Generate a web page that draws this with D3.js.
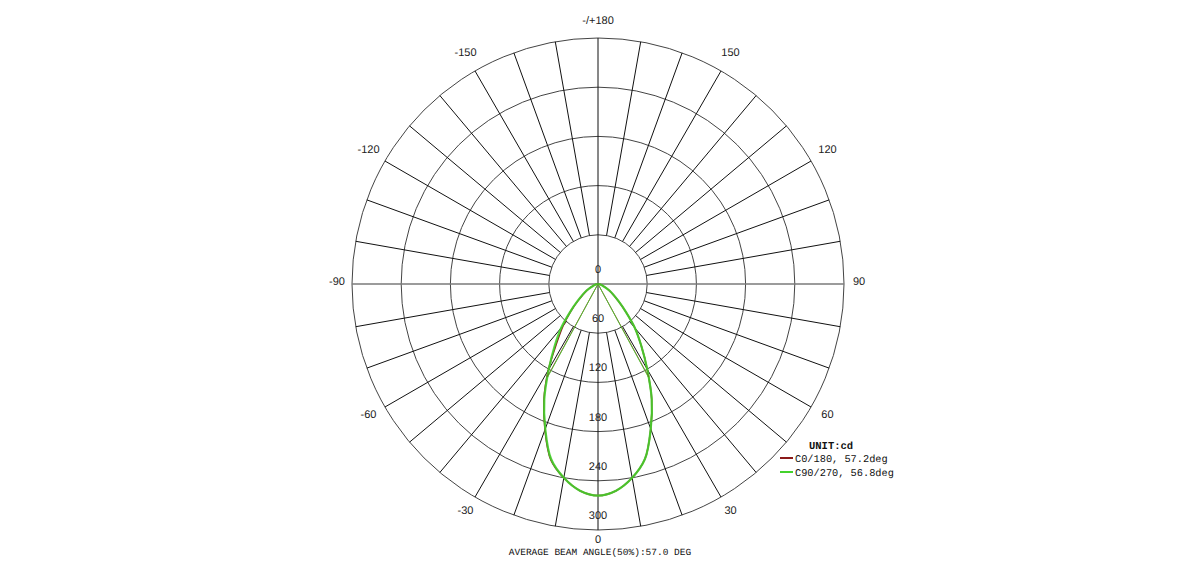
<!DOCTYPE html>
<html>
<head>
<meta charset="utf-8">
<script src="https://cdn.jsdelivr.net/npm/d3@7"></script>
<style>
html,body{margin:0;padding:0;background:#fff;}
svg{display:block;}
text{text-rendering:geometricPrecision;}
</style>
</head>
<body>
<svg id="chart" width="1200" height="567"></svg>
<script>
// ---- data ----
const gammaAngles = [-90,-80,-70,-60,-50,-45,-40,-35,-30,-25,-20,-15,-10,-5,0,5,10,15,20,25,30,35,40,45,50,60,70,80,90];
const c0_180   = [0,2,6,16,32,47,66,88,121,156,189,222,240,253,258,253,240,221,188,155,120,92,70,48,33,16,6,2,0];
const c90_270  = [0,2,6,16,33,48,70,92,120,155,188,221,240,253,258,253,240,221,188,155,120,92,70,48,33,16,6,2,0];
const seriesNames = ["C0/180, 57.2deg", "C90/270, 56.8deg"];
const seriesColors = ["#8b1a1a", "#44d22c"];
const beamHalfAngles = [28.6, 28.4];
const maxCd = 258;
const ringTicks = [0, 60, 120, 180, 240, 300];
const angleTicks = [0, 30, 60, 90, 120, 150, 180, -150, -120, -90, -60, -30];
const angleTickLabels = ["0","30","60","90","120","150","-/+180","-150","-120","-90","-60","-30"];
const unitLabel = "UNIT:cd";
const footerText = "AVERAGE BEAM ANGLE(50%):57.0 DEG";

// ---- layout ----
const cx = 598, cy = 284, R = 246;
const svg = d3.select("#chart");
const r = d3.scaleLinear().domain([0, 300]).range([0, R]);
const toRad = d => d * Math.PI / 180;
const px = (a, v) => cx + r(v) * Math.sin(toRad(a));
const py = (a, v) => cy + r(v) * Math.cos(toRad(a));

const g = svg.append("g");

// rings
g.selectAll("circle.ring").data(ringTicks.filter(d => d > 0)).join("circle")
  .attr("class","ring").attr("cx", cx).attr("cy", cy).attr("r", d => r(d))
  .attr("fill","none").attr("stroke","#444").attr("stroke-width",1);

// spokes every 10 deg from first ring to outer ring
const spokes = d3.range(-170, 181, 10).filter(a => a % 90 !== 0);
g.selectAll("line.spoke").data(spokes).join("line")
  .attr("x1", a => px(a, 60)).attr("y1", a => py(a, 60))
  .attr("x2", a => px(a, 300)).attr("y2", a => py(a, 300))
  .attr("stroke","#111").attr("stroke-width",1);

// axes through centre
g.append("line").attr("x1", px(-90,300)).attr("y1", py(-90,300)).attr("x2", px(90,300)).attr("y2", py(90,300))
  .attr("stroke","#7a7a7a").attr("stroke-width",1.5);
g.append("line").attr("x1", px(180,300)).attr("y1", py(180,300)).attr("x2", px(0,300)).attr("y2", py(0,300))
  .attr("stroke","#111").attr("stroke-width",1);

const sans = "'Liberation Sans', Arial, sans-serif";
// ring labels
g.selectAll("text.ringlab").data(ringTicks).join("text")
  .attr("x", cx).attr("y", d => cy + r(d) - 14)
  .attr("text-anchor","middle").attr("dominant-baseline","central")
  .attr("font-family", sans).attr("font-size", 11)
  .attr("fill","#222").text(d => d);

// angle labels
const labR = a => (a % 90 === 0) ? (a === 0 ? 258 : 261) : 265;
g.selectAll("text.anglab").data(angleTicks).join("text")
  .attr("x", a => cx + labR(a) * Math.sin(toRad(a)))
  .attr("y", a => cy + labR(a) * Math.cos(toRad(a)) - 2)
  .attr("text-anchor","middle").attr("dominant-baseline","central")
  .attr("font-family", sans).attr("font-size", 11)
  .attr("fill","#222").text((a, i) => angleTickLabels[i]);

// curves
const line = d3.lineRadial().angle(d => toRad(180 - d[0])).radius(d => r(d[1])).curve(d3.curveCatmullRom);
const allSeries = [c0_180, c90_270];
const cg = g.append("g").attr("transform", `translate(${cx},${cy})`);
allSeries.forEach((vals, i) => {
  const pts = gammaAngles.map((a, k) => [a, vals[k]]);
  cg.append("path").attr("d", line(pts)).attr("fill","none")
    .attr("stroke", seriesColors[i]).attr("stroke-width", i === 1 ? 2.2 : 1.6)
    .attr("stroke-opacity", i === 1 ? 0.9 : 1);
  // beam angle lines (50% intensity)
  [-1, 1].forEach(s => {
    const a = s * beamHalfAngles[i];
    g.append("line").attr("x1", cx).attr("y1", cy)
      .attr("x2", px(a, maxCd / 2)).attr("y2", py(a, maxCd / 2))
      .attr("stroke", seriesColors[i]).attr("stroke-width", 1).attr("stroke-opacity", 0.85);
  });
});

// legend
const mono = "'Liberation Mono', 'Courier New', monospace";
g.append("text").attr("x", 809).attr("y", 449).attr("font-family", mono).attr("font-size", 10.5)
  .attr("font-weight","bold").attr("fill","#111").text(unitLabel);
seriesNames.forEach((n, i) => {
  const y = 458 + i * 14;
  g.append("line").attr("x1", 780).attr("x2", 793).attr("y1", y).attr("y2", y)
    .attr("stroke", seriesColors[i]).attr("stroke-width", 2);
  g.append("text").attr("x", 795).attr("y", y + 4).attr("font-family", mono).attr("font-size", 10.3)
    .attr("fill","#111").text(n);
});

// footer
g.append("text").attr("x", 600).attr("y", 555).attr("text-anchor","middle")
  .attr("font-family", mono).attr("font-size", 9.5).attr("fill","#111").text(footerText);
</script>
</body>
</html>
